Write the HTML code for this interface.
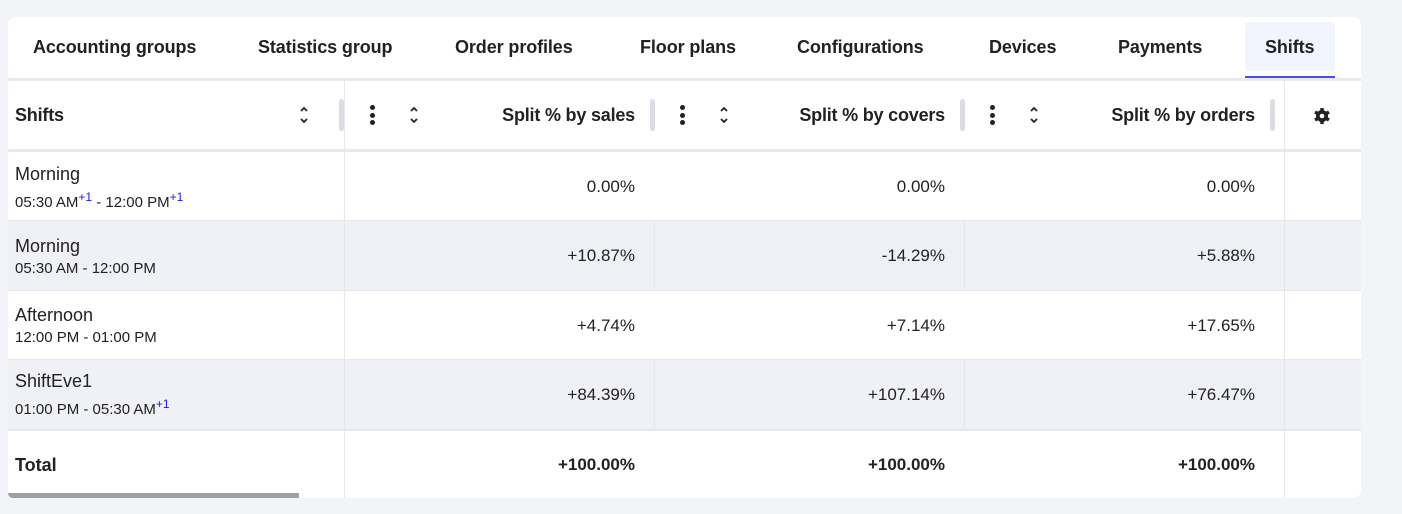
<!DOCTYPE html>
<html><head><style>
*{margin:0;padding:0;box-sizing:border-box}
body{width:1402px;height:514px;background:#f3f4f8;font-family:"Liberation Sans",sans-serif;color:#222;position:relative;overflow:hidden}
.card{position:absolute;left:8px;top:17px;width:1353px;height:481px;background:#fff;border-radius:8px;overflow:hidden}
.a{position:absolute;white-space:nowrap}
.tab{position:absolute;top:37px;font-weight:bold;font-size:18px;color:#222;letter-spacing:-0.1px}
.hd{position:absolute;top:105px;font-weight:bold;font-size:18px;letter-spacing:-0.2px}
.v{position:absolute;font-size:17px;text-align:right;width:300px}
.bar{position:absolute;width:5px;height:32px;top:99px;background:#dcdde2;border-radius:3px}
.kb{position:absolute;top:105px;width:5px}
.kb i{display:block;width:5px;height:5px;background:#222;border-radius:50%;margin-bottom:2.5px}
.srt{position:absolute;top:106px}
.nm{position:absolute;left:15px;font-size:18px}
.tm{position:absolute;left:15px;font-size:15px}
sup{color:#1a1aee;font-size:12px}
</style></head><body>
<div class="card"></div>
<div class="tab" style="left:33px">Accounting groups</div>
<div class="tab" style="left:258px">Statistics group</div>
<div class="tab" style="left:455px">Order profiles</div>
<div class="tab" style="left:640px">Floor plans</div>
<div class="tab" style="left:797px">Configurations</div>
<div class="tab" style="left:989px">Devices</div>
<div class="tab" style="left:1118px">Payments</div>
<div class="a" style="left:1245px;top:22px;width:90px;height:49px;background:#f2f4fe;border-radius:4px"></div>
<div class="tab" style="left:1265px">Shifts</div>
<div class="a" style="left:1245px;top:76px;width:90px;height:2px;background:#4a4af4"></div>
<div class="a" style="left:8px;top:78px;width:1353px;height:3px;background:#e8e9ee"></div>
<div class="a" style="left:8px;top:149px;width:1353px;height:3px;background:#e8e9ee"></div>
<div class="a" style="left:8px;top:221px;width:1353px;height:69px;background:#f0f1f6"></div>
<div class="a" style="left:8px;top:360px;width:1353px;height:69px;background:#f0f1f6"></div>
<div class="a" style="left:8px;top:220px;width:1353px;height:1px;background:#e6e7ec"></div>
<div class="a" style="left:8px;top:290px;width:1353px;height:1px;background:#e6e7ec"></div>
<div class="a" style="left:8px;top:359px;width:1353px;height:1px;background:#e6e7ec"></div>
<div class="a" style="left:8px;top:429px;width:1353px;height:2px;background:#e6e7ec"></div>
<div class="a" style="left:344px;top:81px;width:1px;height:417px;background:#e6e7ec"></div>
<div class="a" style="left:1284px;top:81px;width:1px;height:417px;background:#e6e7ec"></div>
<div class="a" style="left:654px;top:221px;width:1px;height:69px;background:#e6e7ec"></div>
<div class="a" style="left:964px;top:221px;width:1px;height:69px;background:#e6e7ec"></div>
<div class="a" style="left:654px;top:360px;width:1px;height:69px;background:#e6e7ec"></div>
<div class="a" style="left:964px;top:360px;width:1px;height:69px;background:#e6e7ec"></div>
<div class="hd" style="left:15px">Shifts</div>
<svg class="srt" style="left:299px" width="10" height="18"><path d="M2 5L5 2L8 5M2 13L5 16L8 13" stroke="#222" stroke-width="1.8" fill="none"/></svg>
<div class="bar" style="left:339px"></div>
<div class="kb" style="left:370px"><i></i><i></i><i></i></div>
<svg class="srt" style="left:409px" width="10" height="18"><path d="M2 5L5 2L8 5M2 13L5 16L8 13" stroke="#222" stroke-width="1.8" fill="none"/></svg>
<div class="hd" style="left:335px;width:300px;text-align:right">Split % by sales</div>
<div class="bar" style="left:650px"></div>
<div class="kb" style="left:680px"><i></i><i></i><i></i></div>
<svg class="srt" style="left:719px" width="10" height="18"><path d="M2 5L5 2L8 5M2 13L5 16L8 13" stroke="#222" stroke-width="1.8" fill="none"/></svg>
<div class="hd" style="left:645px;width:300px;text-align:right">Split % by covers</div>
<div class="bar" style="left:960px"></div>
<div class="kb" style="left:990px"><i></i><i></i><i></i></div>
<svg class="srt" style="left:1029px" width="10" height="18"><path d="M2 5L5 2L8 5M2 13L5 16L8 13" stroke="#222" stroke-width="1.8" fill="none"/></svg>
<div class="hd" style="left:955px;width:300px;text-align:right">Split % by orders</div>
<div class="bar" style="left:1270px"></div>
<svg class="a" style="left:1313px;top:107px" width="18" height="18" viewBox="0 0 18 18"><g fill="#222"><circle cx="9" cy="9" r="6"/><rect x="7.3" y="1" width="3.4" height="16"/><rect x="7.3" y="1" width="3.4" height="16" transform="rotate(60 9 9)"/><rect x="7.3" y="1" width="3.4" height="16" transform="rotate(120 9 9)"/></g><circle cx="9" cy="9" r="2.3" fill="#fff"/></svg>
<div class="nm" style="top:164px">Morning</div>
<div class="tm" style="top:190px">05:30 AM<sup>+1</sup> - 12:00 PM<sup>+1</sup></div>
<div class="v" style="left:335px;top:177px">0.00%</div>
<div class="v" style="left:645px;top:177px">0.00%</div>
<div class="v" style="left:955px;top:177px">0.00%</div>
<div class="nm" style="top:236px">Morning</div>
<div class="tm" style="top:260px">05:30 AM - 12:00 PM</div>
<div class="v" style="left:335px;top:246px">+10.87%</div>
<div class="v" style="left:645px;top:246px">-14.29%</div>
<div class="v" style="left:955px;top:246px">+5.88%</div>
<div class="nm" style="top:305px">Afternoon</div>
<div class="tm" style="top:329px">12:00 PM - 01:00 PM</div>
<div class="v" style="left:335px;top:316px">+4.74%</div>
<div class="v" style="left:645px;top:316px">+7.14%</div>
<div class="v" style="left:955px;top:316px">+17.65%</div>
<div class="nm" style="top:371px">ShiftEve1</div>
<div class="tm" style="top:397px">01:00 PM - 05:30 AM<sup>+1</sup></div>
<div class="v" style="left:335px;top:385px">+84.39%</div>
<div class="v" style="left:645px;top:385px">+107.14%</div>
<div class="v" style="left:955px;top:385px">+76.47%</div>
<div class="nm" style="top:455px;font-weight:bold;font-size:18px">Total</div>
<div class="v" style="left:335px;top:455px;font-weight:bold">+100.00%</div>
<div class="v" style="left:645px;top:455px;font-weight:bold">+100.00%</div>
<div class="v" style="left:955px;top:455px;font-weight:bold">+100.00%</div>
<div class="a" style="left:8px;top:493px;width:291px;height:5px;background:#a0a0a0;border-radius:0 0 0 6px"></div>
</body></html>
